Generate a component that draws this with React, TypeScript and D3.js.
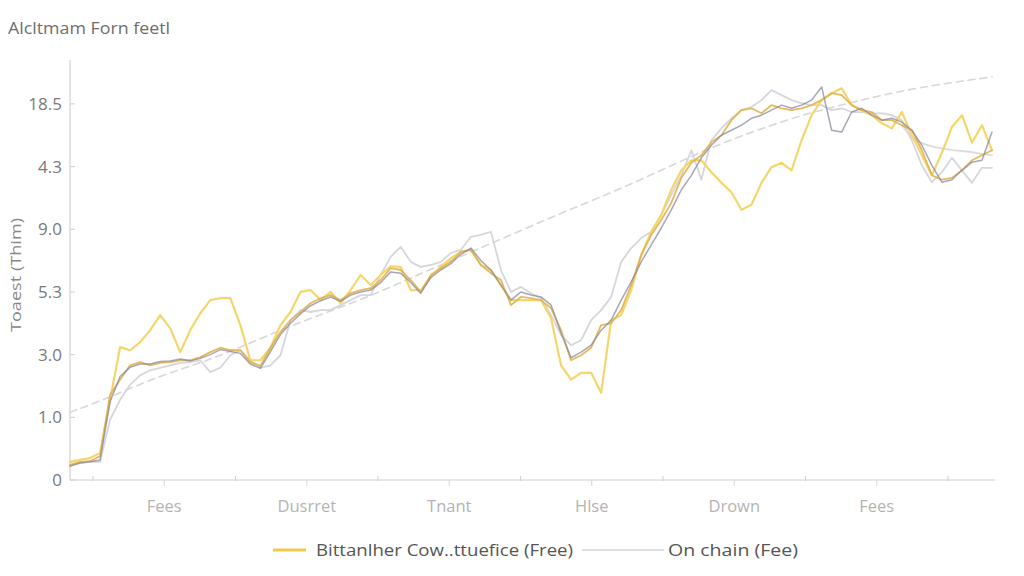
import React from "react";
import * as d3 from "d3";

const title = "Alcltmam Forn feetl";
const yAxisTitle = "Toaest (Thim)";
const yTickValues = [0, 10, 20, 30, 40, 50, 60];
const yTickLabels = ["0", "1.0", "3.0", "5.3", "9.0", "4.3", "18.5"];
const xCategories = ["Fees", "Dusrret", "Tnant", "Hlse", "Drown", "Fees"];
const legendLabels = ["Bittanlher Cow..ttuefice (Free)", "On chain (Fee)"];

// 93 samples per series
const yellowSeries = [
  2.9, 3.2, 3.5, 4.3, 12.8, 21.2, 20.7, 22.0, 23.9, 26.3,
  24.2, 20.4, 23.9, 26.6, 28.7, 29.0, 29.0, 24.7, 19.1, 19.1,
  21.1, 24.7, 26.8, 30.0, 30.3, 28.7, 30.0, 28.2, 30.3, 32.7,
  31.1, 32.7, 34.1, 34.0, 30.3, 30.3, 32.4, 34.0, 35.4, 36.4,
  36.7, 34.3, 33.5, 31.1, 28.7, 28.7, 28.7, 28.7, 25.8, 18.3,
  16.0, 17.1, 17.1, 13.9, 25.5, 26.3, 30.3, 35.9, 39.6, 42.3,
  46.3, 49.4, 51.0, 51.0, 49.1, 47.4, 45.9, 43.1, 43.9, 47.4,
  49.9, 50.6, 49.4, 54.2, 58.2, 60.6, 61.7, 62.5, 59.8, 59.0,
  58.2, 56.9, 56.1, 58.7, 55.0, 51.8, 48.6, 52.2, 56.3, 58.2,
  53.8, 56.6, 52.6,
];
const goldenSeries = [
  2.4, 2.9, 3.0, 3.8, 13.6, 16.0, 18.3, 18.8, 18.3, 18.7,
  18.8, 19.1, 19.1, 19.6, 20.4, 21.1, 20.7, 20.7, 18.8, 18.2,
  21.1, 23.6, 25.5, 26.8, 28.2, 29.0, 29.5, 28.7, 29.8, 30.3,
  30.6, 31.9, 33.8, 33.5, 31.9, 30.0, 32.7, 33.8, 34.8, 36.4,
  36.7, 34.3, 33.0, 31.9, 27.9, 29.2, 29.0, 28.7, 27.4, 23.9,
  19.1, 19.9, 21.1, 24.7, 25.0, 27.1, 31.1, 35.9, 39.1, 41.5,
  44.2, 48.2, 50.6, 51.8, 53.9, 55.0, 57.4, 59.0, 59.3, 58.5,
  59.8, 59.3, 59.0, 59.3, 59.8, 60.6, 61.7, 61.4, 59.8, 59.0,
  58.7, 57.4, 57.4, 56.6, 55.8, 52.6, 48.6, 47.9, 48.2, 49.4,
  51.0, 51.8, 52.6,
];
const darkGraySeries = [
  2.2, 2.7, 2.9, 3.2, 12.5, 16.5, 18.0, 18.5, 18.5, 18.9,
  19.0, 19.3, 19.0, 19.4, 20.0, 20.8, 20.5, 20.2, 18.5, 17.8,
  20.5, 23.2, 25.0, 26.5, 27.8, 28.6, 29.2, 28.5, 29.5, 30.0,
  30.3, 31.5, 33.2, 33.0, 31.5, 29.8, 32.3, 33.5, 34.5, 36.0,
  37.0, 35.0, 33.5, 31.1, 28.7, 30.0, 29.5, 29.2, 27.9, 23.4,
  19.5, 20.4, 21.5, 23.9, 25.5, 28.7, 31.6, 34.8, 37.5, 40.2,
  43.1, 46.3, 48.6, 51.4, 53.4, 55.0, 55.8, 56.6, 57.7, 58.2,
  59.0, 59.8, 59.3, 59.8, 60.6, 62.7, 55.8, 55.5, 58.7, 59.3,
  58.2, 57.4, 57.7, 57.1, 55.8, 53.4, 50.2, 47.5, 47.9, 49.4,
  50.7, 51.0, 55.5,
];
const lightGraySeries = [
  2.4, 2.7, 2.9, 2.9, 9.6, 12.8, 15.2, 16.7, 17.5, 17.9,
  18.3, 18.7, 18.8, 19.1, 17.2, 17.9, 19.9, 20.7, 19.1, 17.9,
  18.3, 19.9, 25.5, 27.1, 26.8, 27.1, 27.1, 27.9, 28.7, 29.5,
  29.5, 32.7, 35.6, 37.2, 34.8, 34.0, 34.3, 34.8, 36.2, 36.7,
  38.8, 39.1, 39.6, 33.5, 30.0, 30.8, 29.8, 29.0, 26.3, 23.1,
  21.5, 22.3, 25.5, 27.1, 29.2, 34.8, 37.0, 38.6, 39.6, 42.3,
  45.5, 48.6, 52.6, 47.9, 54.2, 56.1, 57.7, 59.0, 59.5, 60.6,
  62.2, 61.4, 60.6, 60.1, 59.8, 59.8, 59.0, 59.3, 58.7, 58.7,
  58.5, 58.5, 58.2, 57.4, 54.2, 50.2, 47.5, 49.1, 51.4, 49.4,
  47.4, 49.8, 49.8,
];
// smoother on-chain tail (indices 83..92)
const tailStart = 83;
const lightTailSeries = [56.6, 54.5, 53.7, 53.2, 52.9, 52.6, 52.5, 52.3, 52.0, 51.8];
const trendIndex = [0, 4, 9, 14, 19, 24, 29, 34, 39, 44, 49, 54, 59, 64, 69, 74, 79, 84, 92];
const trendSeries = [10.8, 13.2, 16.7, 19.1, 22.6, 25.8, 28.7, 32.2, 35.7, 39.1, 42.6, 45.8, 49.4, 53.1, 56.1, 58.7, 60.6, 62.5, 64.3];

const W = 1024;
const H = 576;
const left = 70;
const right = 995;
const bottom = 480;
const top = 60;

export default function App() {
  const n = yellowSeries.length;
  const x = d3.scaleLinear().domain([0, n - 1]).range([left, 992]);
  const y = d3.scaleLinear().domain([0, 67]).range([bottom, top]);
  const band = d3
    .scaleBand<number>()
    .domain(xCategories.map((_, i) => i))
    .range([93, 948]);

  const line = d3
    .line<number>()
    .x((_, i) => x(i))
    .y((d) => y(d))
    .curve(d3.curveLinear);

  const tailLine = d3
    .line<number>()
    .x((_, i) => x(tailStart + i))
    .y((d) => y(d))
    .curve(d3.curveBasis);

  const trendLine = d3
    .line<number>()
    .x((_, i) => x(trendIndex[i]))
    .y((d) => y(d))
    .curve(d3.curveBasis);

  const boundaries = xCategories.map((_, i) => band(i) as number).concat([948]);
  const font = "'Open Sans', 'Noto Sans', sans-serif";

  return (
    <svg
      width={W}
      height={H}
      style={{ position: "absolute", left: 0, top: 0, background: "#ffffff" }}
      fontFamily={font}
    >
      <defs>
        <filter id="soft" x="-5%" y="-5%" width="110%" height="110%">
          <feGaussianBlur stdDeviation="0.55" />
        </filter>
      </defs>
      <rect width={W} height={H} fill="#fff" />
      <text x={8} y={34} fontSize={17} fill="#6e6e6e" textLength={162} lengthAdjust="spacingAndGlyphs">
        {title}
      </text>

      {/* y axis */}
      <line x1={left} x2={left} y1={top} y2={bottom} stroke="#d0d0d0" strokeWidth={1.2} />
      {yTickValues.map((v, i) => (
        <g key={"yt" + i}>
          <line x1={left} x2={left + 5} y1={y(v)} y2={y(v)} stroke="#cfcfcf" />
          <text
            x={62}
            y={y(v)}
            dy="0.35em"
            textAnchor="end"
            fontSize={17}
            fill="#7a7a7a"
          >
            {yTickLabels[i]}
          </text>
        </g>
      ))}
      <text
        transform={`translate(16, 275) rotate(-90)`}
        textAnchor="middle"
        dy="0.35em"
        fontSize={15}
        fill="#888"
        textLength={114}
        lengthAdjust="spacingAndGlyphs"
      >
        {yAxisTitle}
      </text>

      {/* x axis */}
      <line x1={left} x2={right} y1={bottom} y2={bottom} stroke="#d0d0d0" strokeWidth={1.2} />
      {boundaries.map((b, i) => (
        <line key={"xb" + i} x1={b} x2={b} y1={bottom - 4} y2={bottom + 1} stroke="#cfcfcf" />
      ))}
      {xCategories.map((c, i) => {
        const cx = (band(i) as number) + band.bandwidth() / 2;
        return (
          <g key={"xl" + i}>
            <line x1={cx} x2={cx} y1={bottom} y2={bottom + 6} stroke="#d6d6d6" />
            <text x={cx} y={512} textAnchor="middle" fontSize={16.5} fill="#b4b4b4">
              {c}
            </text>
          </g>
        );
      })}

      {/* lines */}
      <g filter="url(#soft)" fill="none" strokeLinejoin="round" strokeLinecap="round">
        <path d={trendLine(trendSeries) || ""} stroke="#d8d8d8" strokeWidth={1.6} strokeDasharray="7 5" />
        <path d={tailLine(lightTailSeries) || ""} stroke="#dcdcdc" strokeWidth={1.8} />
        <path d={line(lightGraySeries) || ""} stroke="#d6d6de" strokeWidth={1.8} />
        <path d={line(yellowSeries) || ""} stroke="#f5d66b" strokeWidth={2.2} />
        <path d={line(goldenSeries) || ""} stroke="#e2b24c" strokeWidth={1.8} opacity={0.9} />
        <path d={line(darkGraySeries) || ""} stroke="#8a8a9c" strokeWidth={1.5} opacity={0.75} />
      </g>

      {/* legend */}
      <line x1={273} x2={306} y1={550} y2={550} stroke="#f0c94e" strokeWidth={3} />
      <text x={316} y={550} dy="0.35em" fontSize={17} fill="#555" textLength={257} lengthAdjust="spacingAndGlyphs">
        {legendLabels[0]}
      </text>
      <line x1={582} x2={664} y1={550} y2={550} stroke="#d4d4d4" strokeWidth={1.5} />
      <text x={668} y={550} dy="0.35em" fontSize={17} fill="#555" textLength={130} lengthAdjust="spacingAndGlyphs">
        {legendLabels[1]}
      </text>
    </svg>
  );
}
